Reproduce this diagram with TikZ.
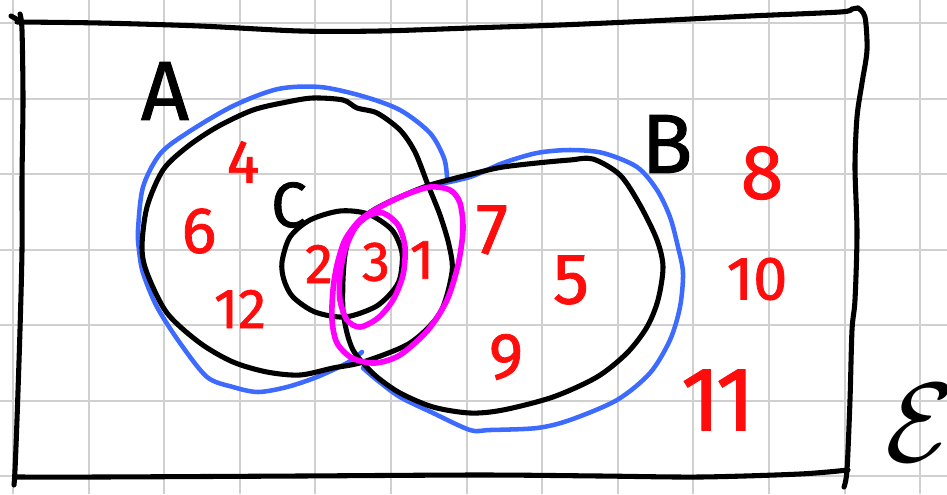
\documentclass[tikz,border=0pt]{standalone}
\usepackage{fontspec}
\setmainfont{Fira Sans}
\newfontfamily\handfont{Fira Sans}[FakeBold=1.2]
\definecolor{gridgray}{HTML}{D0D0D0}
\definecolor{penblue}{HTML}{3D6BFF}
\definecolor{penred}{HTML}{FF0D0D}
\definecolor{penmag}{HTML}{FF00FF}
\begin{document}
\begin{tikzpicture}[x=0.75pt,y=-0.75pt,
  gridline/.style={draw=gridgray,line width=1.5pt},
  pen/.style={draw=black,line width=3.8pt,line cap=round,line join=round},
  bluepen/.style={draw=penblue,line width=3.4pt,line cap=round,line join=round},
  magpen/.style={draw=penmag,line width=4.2pt,line cap=round,line join=round},
  num/.style={text=penred,inner sep=0pt},
  lbl/.style={text=black,inner sep=0pt}]
\useasboundingbox (0,0) rectangle (947,494);
\fill[white] (0,0) rectangle (947,494);
% grid paper
\foreach \i in {0,...,12} \draw[gridline] ({13+75.6*\i},0) -- ({13+75.6*\i},494);
\foreach \j in {0,...,6} \draw[gridline] (0,{23+75.5*\j}) -- (947,{23+75.5*\j});
% universal rectangle
\draw[pen] plot[smooth] coordinates {(17,22) (100,23) (200,26) (300,31) (380,31) (470,28) (560,25) (650,21) (750,16) (840,12) (852,9) (858,8)};
\draw[pen] plot[smooth] coordinates {(858,8) (865,17) (867,50) (862,83) (857,117) (855,167) (857,233) (855,300) (852,330) (850,400) (847,470) (844,487)};
\draw[pen] plot[smooth] coordinates {(15,477) (100,477) (300,476) (480,475) (600,476) (700,477) (800,474) (848,470)};
\draw[pen] plot[smooth] coordinates {(20,14) (22,30) (23,100) (22,180) (22,250) (20,330) (17,420) (15,470) (14,485)};
\draw[pen] (11,16) -- (20,21);
% blue outline of A union B
\draw[bluepen] plot[smooth] coordinates {(447,177) (444,158) (430,133) (400,110) (362,96) (320,87) (278,89) (233,106) (187,133) (160,154) (143,187) (138,230) (139,250) (143,273) (157,307) (180,343) (207,377) (233,387) (258,392) (287,387) (317,377) (347,363) (362,352)};
\draw[bluepen] plot[smooth] coordinates {(430,186) (470,177) (503,163) (537,153) (570,150) (603,153) (637,167) (657,190) (670,217) (678,247) (683,273) (680,307) (670,340) (650,373) (617,400) (570,420) (537,428) (490,430) (470,430) (433,413) (400,397) (377,380) (363,368)};
% set A
\draw[pen] plot[smooth cycle] coordinates {(313,98) (343,100) (357,108) (377,113) (400,130) (415,152) (428,185) (440,215) (449,245) (452,272) (440,313) (410,343) (363,362) (333,368) (300,375) (267,372) (233,362) (200,343) (167,313) (147,273) (142,247) (147,207) (163,170) (187,147) (217,127) (253,110) (287,102)};
% set B
\draw[pen] plot[smooth cycle] coordinates {(377,208) (400,197) (430,185) (480,172) (503,167) (537,163) (570,160) (593,159) (620,175) (640,205) (657,240) (663,267) (658,300) (647,327) (627,353) (597,377) (553,397) (503,410) (470,413) (433,407) (400,393) (377,377) (363,363) (353,350) (347,333) (343,310) (343,280) (345,255) (350,235) (360,220)};
% set C
\draw[pen] plot[smooth cycle] coordinates {(282,262) (290,237) (310,220) (340,211) (368,214) (392,230) (402,253) (400,278) (392,292) (375,307) (345,317) (315,312) (293,297) (284,280)};
% magenta shading outlines
\draw[magpen] plot[smooth cycle] coordinates {(380,207) (405,195) (430,187) (450,190) (460,203) (463,230) (458,265) (447,300) (428,330) (400,355) (375,363) (352,358) (337,343) (332,320) (333,290) (337,265) (345,240) (360,220)};
\draw[magpen] plot[smooth cycle] coordinates {(383,213) (398,225) (405,247) (403,275) (393,300) (378,318) (360,327) (347,320) (340,300) (340,275) (345,250) (355,228) (368,216)};
% set labels
\node[lbl,font=\handfont\fontsize{63}{63}\selectfont] (labA) at (165,91) {A};
\node[lbl,font=\handfont\fontsize{63}{63}\selectfont] (labB) at (667,144) {B};
\node[lbl,font=\handfont\fontsize{48}{48}\selectfont] (labC) at (289,205) {C};
\node[lbl,scale=3.4] (labE) at (920,423) {\Huge$\mathcal{E}$};
% elements
\node[num,font=\handfont\fontsize{46}{46}\selectfont] (n4) at (243,162) {4};
\node[num,font=\handfont\fontsize{49}{49}\selectfont] (n6) at (199,231) {6};
\node[num,font=\handfont\fontsize{42}{42}\selectfont] (n12) at (240,309) {12};
\node[num,font=\handfont\fontsize{42}{42}\selectfont] (n2) at (319,264) {2};
\node[num,font=\handfont\fontsize{42}{42}\selectfont] (n3) at (376,262) {3};
\node[num,font=\handfont\fontsize{42}{42}\selectfont] (n1) at (422,260) {1};
\node[num,font=\handfont\fontsize{54}{54}\selectfont] (n7) at (492,230) {7};
\node[num,font=\handfont\fontsize{54}{54}\selectfont] (n5) at (571,280) {5};
\node[num,font=\handfont\fontsize{49}{49}\selectfont] (n9) at (506,357) {9};
\node[num,font=\handfont\fontsize{58}{58}\selectfont] (n8) at (762,173) {8};
\node[num,font=\handfont\fontsize{46}{46}\selectfont] (n10) at (757,279) {10};
\node[num,font=\handfont\fontsize{68}{68}\selectfont] (n11) at (718,400) {1\kern-0.05em 1};
\end{tikzpicture}
\end{document}
